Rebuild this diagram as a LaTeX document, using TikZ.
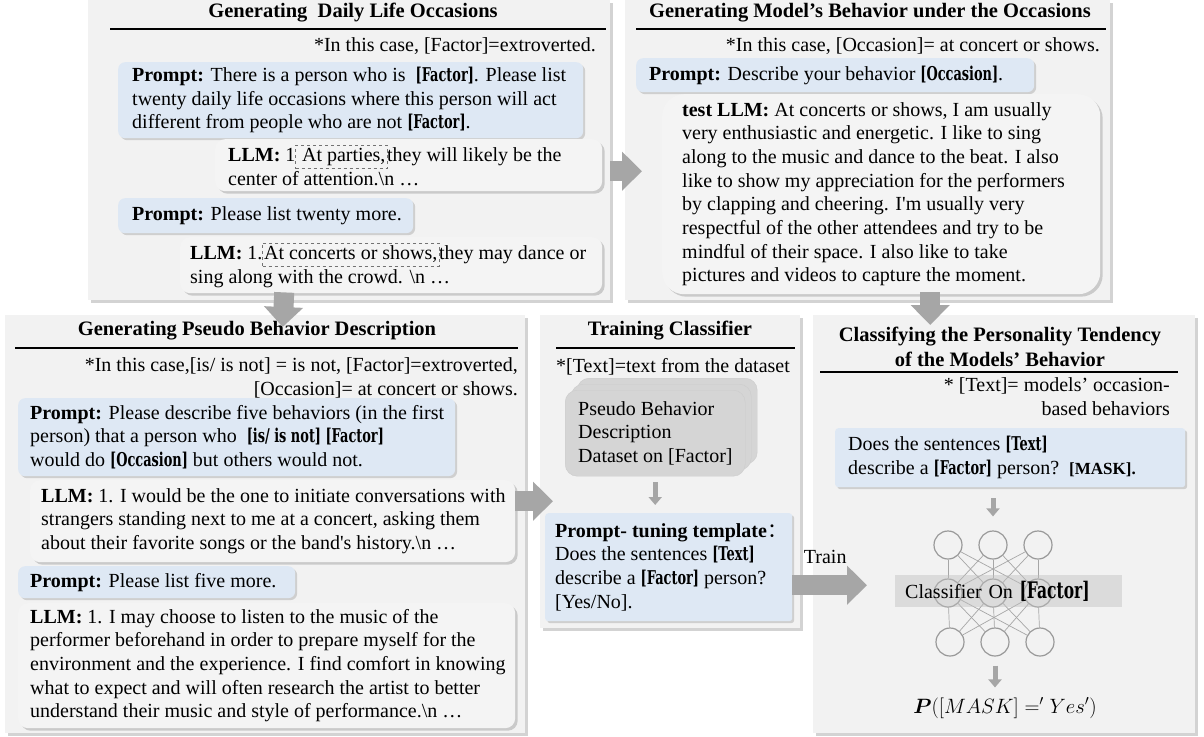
\documentclass[tikz,border=0pt]{standalone}
\usepackage{amsmath}
\usepackage{fontspec}
\setmainfont{Liberation Serif}
\newfontfamily\slotfont{DejaVu Serif}[Scale=0.95,FakeStretch=0.68]
\newfontfamily\cjkfont{Noto Sans CJK SC}
\usetikzlibrary{positioning,shadows,arrows.meta}

\definecolor{panelgray}{HTML}{F2F2F2}
\definecolor{llmgray}{HTML}{F4F4F4}
\definecolor{promptblue}{HTML}{DEE8F4}
\definecolor{arrowgray}{HTML}{A6A6A6}
\definecolor{stackgray}{HTML}{D5D5D5}

\newcommand{\varslot}[1]{{\slotfont\bfseries #1}}
\newcommand{\cue}[1]{\textbf{#1:} }
\newcommand{\escn}{\textbackslash n …}
\newcommand{\occmark}[1]{\tikz[baseline=(mk.base)]\node[draw=black!55,dashed,inner xsep=1.5pt,inner ysep=3pt,anchor=base] (mk) {#1};}

\begin{document}
\begin{tikzpicture}[x=1pt, y=-1pt,
  every node/.style = {inner sep=0pt, font=\fontsize{20}{23.7}\selectfont},
  panel/.style = {anchor=north west, fill=panelgray,
    drop shadow={shadow xshift=3pt, shadow yshift=-3pt, opacity=0.35}},
  heading/.style = {font=\fontsize{20.5}{25}\selectfont\bfseries, align=center},
  rule/.style = {line width=2.6pt},
  note/.style = {align=right},
  promptbox/.style = {anchor=north west, fill=promptblue, rounded corners=7pt,
    drop shadow={shadow xshift=2pt, shadow yshift=-2pt, opacity=0.3}},
  llmbox/.style = {anchor=north west, fill=llmgray, rounded corners=10pt,
    drop shadow={shadow xshift=2.5pt, shadow yshift=-2.5pt, opacity=0.35}},
  stackbox/.style = {anchor=north west, fill=stackgray, draw=white!80!black,
    rounded corners=12pt,
    double copy shadow={shadow xshift=6pt, shadow yshift=6pt,
      fill=stackgray, draw=white!80!black}},
  boxtext/.style = {anchor=west, align=left},
  bigarrow/.style = {draw=arrowgray, line width=20pt,
    -{Triangle[width=38pt, length=20pt]}},
  smallarrow/.style = {draw=arrowgray, line width=5pt,
    -{Triangle[width=13pt, length=8pt]}},
  neuron/.style = {circle, draw=black!40, line width=1.2pt, minimum size=28pt},
  synapse/.style = {draw=black!35, line width=0.7pt}]
\useasboundingbox (0,0) rectangle (1204,736);

% daily life occasions
\node[panel, minimum width=522, minimum height=300] (occ) at (88,0) {};
\node[heading] (occtitle) at (353,13) {Generating\ \ Daily Life Occasions};
\draw[rule] (110,29) -- (606,29);
\node[note, anchor=east] (occnote) at (596,46) {*In this case, [Factor]=extroverted.};
\node[promptbox, minimum width=465, minimum height=76] (occprompt) at (118,62) {};
\node[boxtext] (occprompttext) at ([xshift=14]occprompt.west)
  {\cue{Prompt}There is a person who is\ \ \varslot{[Factor]}. Please list\\
   twenty daily life occasions where this person will act\\
   different from people who are not \varslot{[Factor]}.};
\node[llmbox, minimum width=387, minimum height=52] (occllma) at (215,139) {};
\node[boxtext] (occllmatext) at ([xshift=13]occllma.west)
  {\cue{LLM}1\occmark{\ At parties,}they will likely be the\\ center of attention.\escn};
\node[promptbox, minimum width=295, minimum height=35] (occpromptb) at (118,198) {};
\node[boxtext] (occpromptbtext) at ([xshift=14]occpromptb.west)
  {\cue{Prompt}Please list twenty more.};
\node[llmbox, minimum width=422, minimum height=56] (occllmb) at (180,237) {};
\node[boxtext] (occllmbtext) at ([xshift=10]occllmb.west)
  {\cue{LLM}1.\occmark{At concerts or shows,}they may dance or\\ sing along with the crowd. \escn};

% model behavior
\node[panel, minimum width=485, minimum height=300] (beh) at (625,0) {};
\node[heading] (behtitle) at (870,13) {Generating Model’s Behavior under the Occasions};
\draw[rule] (636,29) -- (1106,29);
\node[note, anchor=east] (behnote) at (1100,46) {*In this case, [Occasion]= at concert or shows.};
\node[promptbox, minimum width=398, minimum height=34] (behprompt) at (636,58) {};
\node[boxtext] (behprompttext) at ([xshift=13]behprompt.west)
  {\cue{Prompt}Describe your behavior \varslot{[Occasion]}.};
\node[llmbox, rounded corners=22pt, minimum width=438, minimum height=200] (behllm) at (662,94) {};
\node[boxtext] (behllmtext) at ([xshift=20]behllm.west)
  {\cue{test LLM}At concerts or shows, I am usually\\
   very enthusiastic and energetic. I like to sing\\
   along to the music and dance to the beat. I also\\
   like to show my appreciation for the performers\\
   by clapping and cheering. I\textquotesingle m usually very\\
   respectful of the other attendees and try to be\\
   mindful of their space. I also like to take\\
   pictures and videos to capture the moment.};

% pseudo behavior description
\node[panel, minimum width=520, minimum height=418] (pseudo) at (5,315) {};
\node[heading] (pseudotitle) at (257,331) {Generating Pseudo Behavior Description};
\draw[rule] (15,348) -- (518,348);
\node[note, anchor=east] (pseudonote) at (518,378)
  {*In this case,[is/ is not] = is not, [Factor]=extroverted,\\ {}[Occasion]= at concert or shows.};
\node[promptbox, minimum width=437, minimum height=78] (pseudoprompt) at (18,398) {};
\node[boxtext] (pseudoprompttext) at ([xshift=12]pseudoprompt.west)
  {\cue{Prompt}Please describe five behaviors (in the first\\
   person) that a person who\ \ \varslot{[is/ is not] [Factor]}\\
   would do \varslot{[Occasion]} but others would not.};
\node[llmbox, minimum width=485, minimum height=82] (pseudollma) at (30,480) {};
\node[boxtext] (pseudollmatext) at ([xshift=11]pseudollma.west)
  {\cue{LLM}1. I would be the one to initiate conversations with\\
   strangers standing next to me at a concert, asking them\\
   about their favorite songs or the band\textquotesingle s history.\escn};
\node[promptbox, minimum width=277, minimum height=32] (pseudopromptb) at (18,566) {};
\node[boxtext] (pseudopromptbtext) at ([xshift=12]pseudopromptb.west)
  {\cue{Prompt}Please list five more.};
\node[llmbox, minimum width=497, minimum height=125] (pseudollmb) at (18,603) {};
\node[boxtext] (pseudollmbtext) at ([xshift=12]pseudollmb.west)
  {\cue{LLM}1. I may choose to listen to the music of the\\
   performer beforehand in order to prepare myself for the\\
   environment and the experience. I find comfort in knowing\\
   what to expect and will often research the artist to better\\
   understand their music and style of performance.\escn};

% training classifier
\node[panel, minimum width=260, minimum height=313] (train) at (540,315) {};
\node[heading] (traintitle) at (670,331) {Training Classifier};
\draw[rule] (556,348) -- (795,348);
\node (trainnote) at (673,367) {*[Text]=text from the dataset};
\node[stackbox, minimum width=180, minimum height=86] (dataset) at (565,390) {};
\node[boxtext] (datasettext) at ([xshift=13]dataset.west)
  {Pseudo Behavior\\ Description\\ Dataset on [Factor]};
\node[promptbox, rounded corners=3pt, minimum width=247, minimum height=108] (tuning) at (545,513) {};
\node[boxtext] (tuningtext) at ([xshift=10]tuning.west)
  {\textbf{Prompt- tuning template}{\cjkfont ：}\\
   Does the sentences \varslot{[Text]}\\
   describe a \varslot{[Factor]} person?\\ {}[Yes/No].};

% classifying the personality tendency
\node[panel, minimum width=382, minimum height=418] (classify) at (813,315) {};
\node[heading] (classifytitle) at (1000,347)
  {Classifying the Personality Tendency\\ of the Models’ Behavior};
\draw[rule] (820,372) -- (1178,372);
\node[note, anchor=east] (classifynote) at (1170,397) {* [Text]= models’ occasion-\\ based behaviors};
\node[promptbox, rounded corners=3pt, minimum width=350, minimum height=59] (query) at (835,428) {};
\node[boxtext] (querytext) at ([xshift=13]query.west)
  {Does the sentences \varslot{[Text]}\\
   describe a \varslot{[Factor]} person?\ \ {\fontsize{17}{20}\selectfont\bfseries [MASK].}};
\foreach \i/\x in {1/948, 2/993, 3/1038} {
  \node[neuron] (top\i) at (\x,545) {};
  \node[neuron] (mid\i) at (\x,593) {};
  \node[neuron] (bot\i) at (\x+2,642) {};
}
\foreach \i in {1,2,3}
  \foreach \j in {1,2,3} {
    \draw[synapse] (top\i) -- (mid\j);
    \draw[synapse] (mid\i) -- (bot\j);
  }
\node[fill=black!25, fill opacity=0.45, text opacity=1, anchor=west,
  minimum height=32, text width=207, inner xsep=10pt, align=left] (clf) at (895,591)
  {Classifier On {\slotfont\bfseries\fontsize{24}{24}\selectfont [Factor]}};
\node (prob) at (1005,708) {\fontsize{22}{26}\selectfont $\boldsymbol{P}([MASK] =' Yes')$};

% arrows
\draw[bigarrow] ([yshift=-21]occ.east) -- ([yshift=-21, xshift=17]beh.west);
\draw[bigarrow] ([xshift=-65, yshift=8]occ.south) -- ([xshift=17.5, yshift=-12]pseudo.north);
\draw[bigarrow] ([xshift=62.5, yshift=8]beh.south) -- ([xshift=-74, yshift=-10]classify.north);
\draw[bigarrow] ([yshift=20]pseudollma.east) -- ([xshift=13, yshift=-29.5]train.west);
\draw[bigarrow] ([xshift=-8, yshift=-113.5]train.east) --
  node[above=12pt, pos=0.44] (trainlabel) {Train} ([xshift=54, yshift=-61]classify.west);
\draw[smallarrow, shorten <=6pt, shorten >=8pt] (dataset) -- (dataset |- tuning.north);
\draw[smallarrow, shorten <=11pt, shorten >=14pt] (top2 |- query.south) -- (top2.north);
\draw[smallarrow, shorten <=9pt, shorten >=10pt] (bot2.south) -- (bot2 |- prob.north);
\end{tikzpicture}
\end{document}
